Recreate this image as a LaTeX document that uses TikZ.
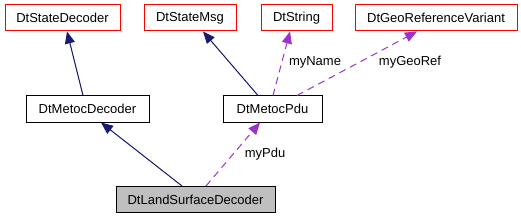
\documentclass[tikz,border=0pt]{standalone}
\usepackage{fontspec}
\setmainfont{Liberation Sans}
\usetikzlibrary{arrows.meta}
\definecolor{navyline}{HTML}{191970}
\definecolor{purpline}{HTML}{9A32CD}
\definecolor{grayfill}{HTML}{BFBFBF}
\tikzset{
  box/.style={draw=black, line width=1pt, fill=white, minimum height=26pt, inner sep=0pt, font=\fontsize{13}{15}\selectfont},
  redbox/.style={box, draw=red},
  inherit/.style={draw=navyline, line width=1pt, -{Triangle[length=12pt,width=10pt]}, fill=navyline},
  uses/.style={draw=purpline, line width=1pt, dash pattern=on 7pt off 5pt, -{Triangle[length=12pt,width=10pt,fill=purpline]}},
  lbl/.style={font=\fontsize{13}{15}\selectfont, inner sep=0pt}
}
\begin{document}
\begin{tikzpicture}[x=1pt,y=-1pt]
\useasboundingbox (0,0) rectangle (521,219);
\node[redbox, minimum width=115pt] (sd) at (62.5,18) {DtStateDecoder};
\node[redbox, minimum width=92pt] (sm) at (190,18) {DtStateMsg};
\node[redbox, minimum width=71pt] (str) at (296.5,18) {DtString};
\node[redbox, minimum width=162pt] (geo) at (436,18) {DtGeoReferenceVariant};
\node[box, minimum width=123pt] (md) at (87.5,109) {DtMetocDecoder};
\node[box, minimum width=99pt] (pdu) at (272.5,109) {DtMetocPdu};
\node[box, fill=grayfill, minimum width=159pt] (lsd) at (195.5,199.5) {DtLandSurfaceDecoder};
\draw[inherit] ([xshift=-4.5pt]md.north) -- ([xshift=4.5pt]sd.south);
\draw[inherit] ([xshift=-14.5pt]pdu.north) -- ([xshift=13pt]sm.south);
\draw[uses] ([xshift=0.5pt]pdu.north) -- ([xshift=-6.5pt]str.south);
\draw[uses] ([xshift=24.5pt]pdu.north) -- ([xshift=-19pt]geo.south);
\draw[inherit] ([xshift=-13.5pt]lsd.north) -- ([xshift=13.5pt]md.south);
\draw[uses] ([xshift=10.5pt]lsd.north) -- ([xshift=-12.5pt]pdu.south);
\node[lbl] (ln) at (315,62) {myName};
\node[lbl] (lg) at (410,62) {myGeoRef};
\node[lbl] (lp) at (265,154) {myPdu};
\end{tikzpicture}
\end{document}
